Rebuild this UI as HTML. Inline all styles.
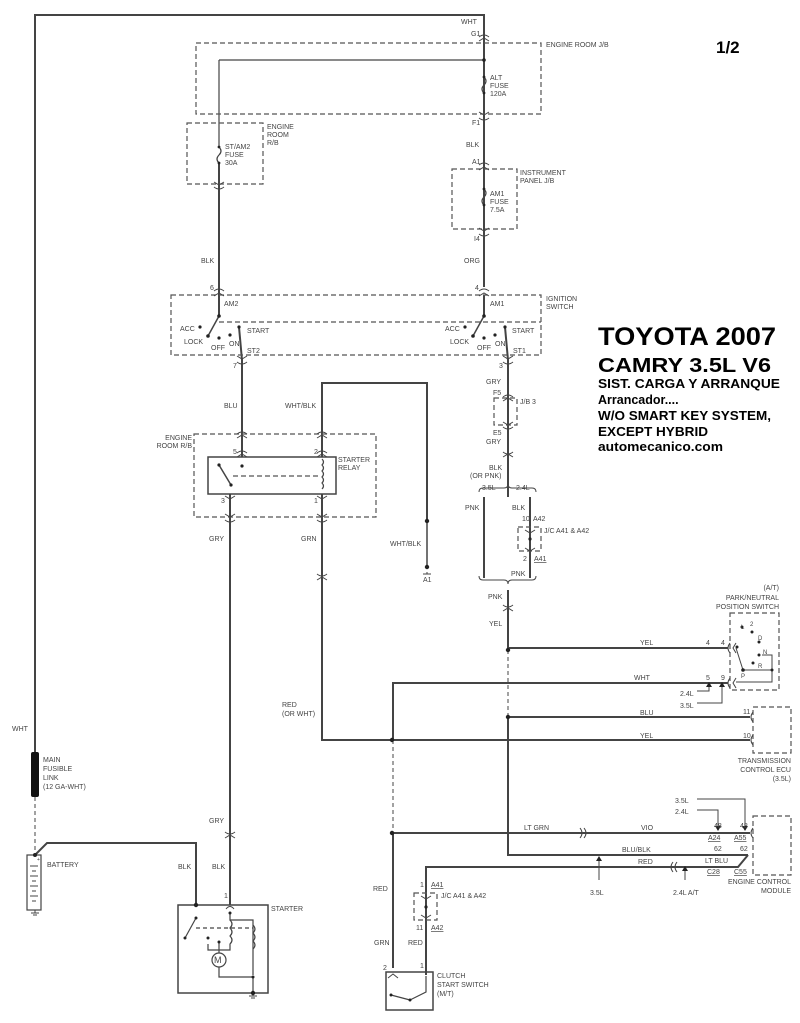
<!DOCTYPE html>
<html><head><meta charset="utf-8"><style>
html,body{margin:0;padding:0;background:#fff;}
svg{display:block;}
text{font-family:"Liberation Sans",Arial,sans-serif;fill:#444;font-size:7px;}
.t{fill:#000;font-weight:bold;}
</style></head><body>
<svg width="800" height="1023" viewBox="0 0 800 1023" xmlns="http://www.w3.org/2000/svg">
<g fill="none" stroke="#444" stroke-width="2">
<!-- main top wire -->
<polyline points="35,752 35,15 484,15 484,43"/>
<line x1="484" y1="43" x2="484" y2="287"/>
<line x1="484" y1="295" x2="484" y2="316"/>
<line x1="219" y1="60" x2="484" y2="60" stroke-width="1.2"/>
<line x1="219" y1="60" x2="219" y2="146" stroke-width="1.2"/>
<line x1="219" y1="162" x2="219" y2="316"/>
<!-- left ignition -->
<line x1="219" y1="316" x2="208" y2="336" stroke-width="1.5"/>
<polyline points="239,327 242,360 242,457" />
<!-- right ignition -->
<line x1="484" y1="316" x2="473" y2="336" stroke-width="1.5"/>
<polyline points="505,327 508,360 508,497"/>
<!-- wht/blk -->
<polyline points="322,457 322,383 427,383 427,521"/>
<line x1="427" y1="521" x2="427" y2="567" stroke-width="1.5"/>
<!-- relay wires -->
<line x1="230" y1="494" x2="230" y2="905"/>
<polyline points="322,494 322,740 393,740"/>
<!-- branch 3.5L / 2.4L -->
<line x1="484" y1="497" x2="484" y2="578"/>
<line x1="530" y1="497" x2="530" y2="578"/>
<polyline points="508,590 508,650"/>
<line x1="508" y1="650" x2="508" y2="717" stroke-width="1" stroke-dasharray="4,3"/>
<polyline points="508,717 508,855 748,855"/>
<line x1="508" y1="648" x2="728" y2="648"/>
<line x1="508" y1="717" x2="750" y2="717"/>
<polyline points="728,683 393,683 393,740"/>
<line x1="393" y1="740" x2="750" y2="740"/>
<line x1="393" y1="740" x2="393" y2="833" stroke-width="1" stroke-dasharray="4,3"/>
<line x1="393" y1="833" x2="393" y2="968"/>
<line x1="393" y1="833" x2="750" y2="833"/>
<polyline points="426,975 426,867 738,867 748,855"/>
<!-- battery wire -->
<line x1="35" y1="797" x2="35" y2="855" stroke-width="1" stroke-dasharray="4,3"/>
<polyline points="35,855 47,843 196,843 196,905"/>
</g>
<!-- fusible link -->
<rect x="31" y="752" width="8" height="45" fill="#111" rx="2"/>
<!-- dashed boxes -->
<g fill="none" stroke="#555" stroke-width="1.2" stroke-dasharray="5,3">
<rect x="196" y="43" width="345" height="71"/>
<rect x="187" y="123" width="76" height="61"/>
<rect x="452" y="169" width="65" height="60"/>
<rect x="171" y="295" width="370" height="60"/>
<line x1="219" y1="322" x2="541" y2="322"/>
<rect x="194" y="434" width="182" height="83"/>
<line x1="233" y1="476" x2="318" y2="476"/>
<rect x="494" y="398" width="23" height="27"/>
<rect x="518" y="527" width="23" height="24"/>
<rect x="730" y="613" width="49" height="77"/>
<rect x="753" y="707" width="38" height="46"/>
<rect x="753" y="816" width="38" height="59"/>
<rect x="414" y="893" width="23" height="27"/>
<line x1="35" y1="0" x2="35" y2="0"/>
</g>
<!-- relay box -->
<rect x="208" y="457" width="128" height="37" fill="none" stroke="#444" stroke-width="1.5"/>
<line x1="219" y1="465" x2="231" y2="485" stroke="#444" stroke-width="1.5"/>
<path d="M322,459 q3,3 0,6 q3,3 0,6 q3,3 0,6 q3,3 0,6 q3,3 0,6" fill="none" stroke="#444" stroke-width="1.2"/>
<!-- fuses -->
<g fill="none" stroke="#444" stroke-width="1.2">
<path d="M484,77 q4,4 0,8 q-4,4 0,8"/>
<path d="M484,189 q4,4 0,8 q-4,4 0,8"/>
<path d="M219,147 q4,4 0,8 q-4,4 0,8"/>
</g>
<!-- connector chevrons -->
<g fill="none" stroke="#444" stroke-width="1">
<path d="M479,37 q5,-4 10,0 M479,41 l5,-3 l5,3"/>
<path d="M479,112 l5,3 l5,-3 M479,118 q5,4 10,0"/>
<path d="M479,165 q5,-4 10,0 M479,170 l5,-3 l5,3"/>
<path d="M479,228 l5,3 l5,-3 M479,234 q5,4 10,0"/>
<path d="M479,291 q5,-4 10,0 M479,296 l5,-3 l5,3"/>
<path d="M214,182 l5,3 l5,-3 M214,187 q5,4 10,0"/>
<path d="M214,291 q5,-4 10,0 M214,296 l5,-3 l5,3"/>
<path d="M237,356 l5,3 l5,-3 M237,362 q5,4 10,0"/>
<path d="M503,356 l5,3 l5,-3 M503,362 q5,4 10,0"/>
<path d="M503,397 q5,-4 10,0 M503,401 l5,-3 l5,3"/>
<path d="M503,422 l5,3 l5,-3 M503,427 q5,4 10,0"/>
<path d="M503,452 q5,4 10,0 M503,457 l5,-3 l5,3"/>
<path d="M237,434 q5,-4 10,0 M237,438 l5,-3 l5,3"/>
<path d="M237,453 q5,-4 10,0 M237,457 l5,-3 l5,3"/>
<path d="M317,434 q5,-4 10,0 M317,438 l5,-3 l5,3"/>
<path d="M317,453 q5,-4 10,0 M317,457 l5,-3 l5,3"/>
<path d="M225,496 l5,3 l5,-3 M225,514 l5,3 l5,-3 M225,520 q5,4 10,0"/>
<path d="M317,496 l5,3 l5,-3 M317,514 l5,3 l5,-3 M317,520 q5,4 10,0"/>
<path d="M317,574 q5,4 10,0 M317,580 l5,-3 l5,3"/>
<path d="M503,605 q5,4 10,0 M503,611 l5,-3 l5,3"/>
<path d="M225,832 q5,4 10,0 M225,838 l5,-3 l5,3"/>
<path d="M525,530 l5,3 l5,-3 M525,548 l5,3 l5,-3"/>
<path d="M421,896 l5,3 l5,-3 M421,915 l5,3 l5,-3"/>
<path d="M388,978 l5,-4 l5,4"/>
<path d="M580,828 q4,5 0,10 M584,828 q4,5 0,10"/>
<path d="M673,862 q-4,5 0,10 M677,862 q-4,5 0,10"/>
<path d="M730,643 q-4,5 0,10 M736,643 l-3,5 l3,5"/>
<path d="M730,678 q-4,5 0,10 M736,678 l-3,5 l3,5"/>
<path d="M753,712 q-4,5 0,10"/>
<path d="M753,735 q-4,5 0,10"/>
<path d="M753,828 q-4,5 0,10"/>
<path d="M226,909 q4,-5 8,0"/>
</g>
<!-- braces -->
<g fill="none" stroke="#444" stroke-width="1">
<path d="M479,492 q0,-4 4,-4 h21 q4,0 4,-4 q0,4 4,4 h20 q4,0 4,4"/>
<path d="M479,576 q0,4 4,4 h21 q4,0 4,4 q0,-4 4,-4 h20 q4,0 4,-4"/>
</g>
<!-- P/N switch internals -->
<g fill="none" stroke="#444" stroke-width="1">
<polyline points="736,648 743,670 772,670 772,655 762,655"/>
<polyline points="772,670 772,682 736,682"/>
<!-- leader lines -->
<polyline points="697,691 709,691 709,683"/>
<polyline points="697,703 722,703 722,683"/>
<polyline points="697,799 745,799 745,830"/>
<polyline points="697,810 718,810 718,830"/>
<line x1="599" y1="880" x2="599" y2="857"/>
<line x1="685" y1="880" x2="685" y2="867"/>
</g>
<!-- starter -->
<g fill="none" stroke="#444" stroke-width="1.2">
<rect x="178" y="905" width="90" height="88" stroke-width="1.5"/>
<line x1="196" y1="918" x2="185" y2="938"/>
<polyline points="230,913 230,920 253,920 253,975"/>
<path d="M230,920 q4,4 0,8 q4,4 0,8 q4,4 0,8 v6 h-22 v-6"/>
<path d="M253,925 q4,4 0,8 q4,4 0,8 q4,4 0,8"/>
<line x1="196" y1="928" x2="253" y2="928" stroke-dasharray="4,3"/>
<line x1="219" y1="942" x2="219" y2="953"/>
<circle cx="219" cy="960" r="7"/>
<polyline points="219,967 219,977 253,977 253,993"/>
<!-- clutch switch -->
<rect x="386" y="972" width="47" height="38" stroke-width="1.5"/>
<line x1="391" y1="995" x2="410" y2="1000"/>
<polyline points="410,1000 426,992 426,976"/>
<!-- battery -->
<rect x="27" y="855" width="14" height="55"/>
</g>
<text x="214" y="963" style="font-size:9px">M</text>
<g stroke="#444" stroke-width="1">
<line x1="30" y1="866" x2="38" y2="866"/><line x1="32" y1="871" x2="36" y2="871"/>
<line x1="30" y1="876" x2="38" y2="876"/><line x1="32" y1="881" x2="36" y2="881"/>
<line x1="30" y1="886" x2="38" y2="886"/><line x1="32" y1="891" x2="36" y2="891"/>
<line x1="30" y1="896" x2="38" y2="896"/><line x1="32" y1="901" x2="36" y2="901"/>
<line x1="35" y1="910" x2="35" y2="913"/><line x1="31" y1="913" x2="39" y2="913"/><line x1="33" y1="915" x2="37" y2="915"/>
<line x1="253" y1="993" x2="253" y2="996"/><line x1="249" y1="996" x2="257" y2="996"/><line x1="251" y1="998" x2="255" y2="998"/>
<line x1="427" y1="572" x2="427" y2="574"/><line x1="423" y1="574" x2="431" y2="574"/>
</g>
<!-- dots -->
<g fill="#222">
<circle cx="484" cy="60" r="1.8"/>
<circle cx="219" cy="316" r="1.8"/><circle cx="208" cy="336" r="1.8"/>
<circle cx="200" cy="327" r="1.6"/><circle cx="219" cy="338" r="1.6"/><circle cx="230" cy="335" r="1.6"/><circle cx="239" cy="327" r="1.6"/>
<circle cx="484" cy="316" r="1.8"/><circle cx="473" cy="336" r="1.8"/>
<circle cx="465" cy="327" r="1.6"/><circle cx="484" cy="338" r="1.6"/><circle cx="495" cy="335" r="1.6"/><circle cx="505" cy="327" r="1.6"/>
<circle cx="242" cy="466" r="1.6"/><circle cx="219" cy="465" r="1.6"/><circle cx="231" cy="485" r="1.6"/>
<circle cx="427" cy="521" r="2.2"/><circle cx="427" cy="567" r="2.2"/>
<circle cx="508" cy="650" r="2.2"/><circle cx="508" cy="717" r="2.2"/>
<circle cx="392" cy="740" r="2.2"/><circle cx="392" cy="833" r="2.2"/>
<circle cx="530" cy="539" r="1.6"/><circle cx="426" cy="907" r="1.6"/>
<circle cx="742" cy="627" r="1.5"/><circle cx="752" cy="632" r="1.5"/><circle cx="759" cy="642" r="1.5"/>
<circle cx="759" cy="655" r="1.5"/><circle cx="753" cy="663" r="1.5"/><circle cx="743" cy="670" r="1.8"/><circle cx="737" cy="647" r="1.5"/><circle cx="772" cy="670" r="1.5"/>
<circle cx="35" cy="855" r="2"/><circle cx="196" cy="905" r="2.2"/><circle cx="253" cy="993" r="2.2"/>
<circle cx="196" cy="918" r="1.5"/><circle cx="185" cy="938" r="1.5"/><circle cx="230" cy="913" r="1.5"/>
<circle cx="208" cy="938" r="1.5"/><circle cx="219" cy="942" r="1.5"/><circle cx="253" cy="977" r="1.5"/>
<circle cx="391" cy="995" r="1.5"/><circle cx="410" cy="1000" r="1.5"/>
<circle cx="484" cy="77" r="1.4"/><circle cx="484" cy="93" r="1.4"/>
<circle cx="484" cy="189" r="1.4"/><circle cx="484" cy="205" r="1.4"/>
<circle cx="219" cy="147" r="1.4"/><circle cx="219" cy="163" r="1.4"/>
</g>
<!-- arrowheads -->
<g fill="#222">
<path d="M596,861 l3,-5 l3,5z"/><path d="M682,871 l3,-5 l3,5z"/>
<path d="M715,826 l3,5 l3,-5z"/><path d="M742,826 l3,5 l3,-5z"/>
<path d="M706,687 l3,-5 l3,5z"/><path d="M719,687 l3,-5 l3,5z"/>
</g>
<!-- labels -->
<text x="461" y="24">WHT</text><text x="471" y="36">G1</text>
<text x="546" y="47">ENGINE ROOM J/B</text>
<text x="490" y="80">ALT</text><text x="490" y="88">FUSE</text><text x="490" y="96">120A</text>
<text x="472" y="125">F1</text><text x="466" y="147">BLK</text><text x="472" y="164">A1</text>
<text x="520" y="175">INSTRUMENT</text><text x="520" y="183">PANEL J/B</text>
<text x="490" y="196">AM1</text><text x="490" y="204">FUSE</text><text x="490" y="212">7.5A</text>
<text x="474" y="241">I4</text><text x="464" y="263">ORG</text><text x="475" y="290">4</text>
<text x="267" y="129">ENGINE</text><text x="267" y="137">ROOM</text><text x="267" y="145">R/B</text>
<text x="225" y="149">ST/AM2</text><text x="225" y="157">FUSE</text><text x="225" y="165">30A</text>
<text x="201" y="263">BLK</text><text x="210" y="290">6</text>
<text x="224" y="306">AM2</text><text x="180" y="331">ACC</text><text x="184" y="344">LOCK</text>
<text x="211" y="350">OFF</text><text x="229" y="346">ON</text><text x="247" y="333">START</text><text x="247" y="353">ST2</text><text x="233" y="368">7</text>
<text x="490" y="306">AM1</text><text x="445" y="331">ACC</text><text x="450" y="344">LOCK</text>
<text x="477" y="350">OFF</text><text x="495" y="346">ON</text><text x="512" y="333">START</text><text x="513" y="353">ST1</text><text x="499" y="368">3</text>
<text x="546" y="301">IGNITION</text><text x="546" y="309">SWITCH</text>
<text x="224" y="408">BLU</text><text x="285" y="408">WHT/BLK</text>
<text x="192" y="440" text-anchor="end">ENGINE</text><text x="192" y="448" text-anchor="end">ROOM R/B</text>
<text x="233" y="454">5</text><text x="314" y="454">2</text><text x="338" y="462">STARTER</text><text x="338" y="470">RELAY</text>
<text x="221" y="503">3</text><text x="314" y="503">1</text>
<text x="209" y="541">GRY</text><text x="301" y="541">GRN</text><text x="390" y="546">WHT/BLK</text><text x="423" y="582">A1</text>
<text x="486" y="384">GRY</text><text x="493" y="395">F5</text><text x="520" y="404">J/B 3</text>
<text x="493" y="435">E5</text><text x="486" y="444">GRY</text>
<text x="489" y="470">BLK</text><text x="470" y="478">(OR PNK)</text>
<text x="482" y="490">3.5L</text><text x="516" y="490">2.4L</text>
<text x="465" y="510">PNK</text><text x="512" y="510">BLK</text>
<text x="522" y="521">10</text><text x="533" y="521">A42</text><text x="544" y="533">J/C A41 &amp; A42</text>
<text x="523" y="561">2</text><text x="534" y="561" text-decoration="underline">A41</text><text x="511" y="576">PNK</text>
<text x="488" y="599">PNK</text><text x="489" y="626">YEL</text>
<text x="640" y="645">YEL</text><text x="706" y="645">4</text><text x="721" y="645">4</text>
<text x="634" y="680">WHT</text><text x="706" y="680">5</text><text x="721" y="680">9</text>
<text x="680" y="696">2.4L</text><text x="680" y="708">3.5L</text>
<text x="779" y="590" text-anchor="end">(A/T)</text><text x="779" y="600" text-anchor="end">PARK/NEUTRAL</text><text x="779" y="609" text-anchor="end">POSITION SWITCH</text>
<text x="741" y="629" style="font-size:6px">L</text><text x="750" y="626" style="font-size:6px">2</text><text x="758" y="640" style="font-size:6px">D</text>
<text x="763" y="654" style="font-size:6px">N</text><text x="758" y="668" style="font-size:6px">R</text><text x="741" y="678" style="font-size:6px">P</text>
<text x="640" y="715">BLU</text><text x="743" y="714">11</text>
<text x="640" y="738">YEL</text><text x="743" y="738">10</text>
<text x="791" y="763" text-anchor="end">TRANSMISSION</text><text x="791" y="772" text-anchor="end">CONTROL ECU</text><text x="791" y="781" text-anchor="end">(3.5L)</text>
<text x="675" y="803">3.5L</text><text x="675" y="814">2.4L</text>
<text x="524" y="830">LT GRN</text><text x="641" y="830">VIO</text>
<text x="714" y="828">48</text><text x="740" y="828">48</text>
<text x="708" y="840" text-decoration="underline">A24</text><text x="734" y="840" text-decoration="underline">A55</text>
<text x="622" y="852">BLU/BLK</text><text x="714" y="851">62</text><text x="740" y="851">62</text>
<text x="638" y="864">RED</text><text x="705" y="863">LT BLU</text>
<text x="707" y="874" text-decoration="underline">C28</text><text x="734" y="874" text-decoration="underline">C55</text>
<text x="590" y="895">3.5L</text><text x="673" y="895">2.4L A/T</text>
<text x="791" y="884" text-anchor="end">ENGINE CONTROL</text><text x="791" y="893" text-anchor="end">MODULE</text>
<text x="420" y="887">1</text><text x="431" y="887" text-decoration="underline">A41</text><text x="441" y="898">J/C A41 &amp; A42</text>
<text x="416" y="930">11</text><text x="431" y="930" text-decoration="underline">A42</text>
<text x="408" y="945">RED</text><text x="420" y="968">1</text>
<text x="437" y="978">CLUTCH</text><text x="437" y="987">START SWITCH</text><text x="437" y="996">(M/T)</text>
<text x="383" y="970">2</text><text x="373" y="891">RED</text><text x="374" y="945">GRN</text>
<text x="282" y="707">RED</text><text x="282" y="716">(OR WHT)</text>
<text x="12" y="731">WHT</text>
<text x="43" y="762">MAIN</text><text x="43" y="771">FUSIBLE</text><text x="43" y="780">LINK</text><text x="43" y="789">(12 GA-WHT)</text>
<text x="47" y="867">BATTERY</text><text x="37" y="861" style="font-size:5px">+</text>
<text x="178" y="869">BLK</text><text x="212" y="869">BLK</text><text x="209" y="823">GRY</text>
<text x="224" y="898">1</text><text x="271" y="911">STARTER</text>
<!-- titles -->
<text class="t" x="716" y="53" style="font-size:17px">1/2</text>
<text class="t" x="598" y="345" style="font-size:25px" textLength="178" lengthAdjust="spacingAndGlyphs">TOYOTA  2007</text>
<text class="t" x="598" y="372" style="font-size:20px" textLength="173" lengthAdjust="spacingAndGlyphs">CAMRY  3.5L  V6</text>
<text class="t" x="598" y="388" style="font-size:12.5px" textLength="182" lengthAdjust="spacingAndGlyphs">SIST. CARGA Y ARRANQUE</text>
<text class="t" x="598" y="404" style="font-size:12.5px">Arrancador....</text>
<text class="t" x="598" y="420" style="font-size:12.5px" textLength="173" lengthAdjust="spacingAndGlyphs">W/O SMART KEY SYSTEM,</text>
<text class="t" x="598" y="436" style="font-size:12.5px" textLength="110" lengthAdjust="spacingAndGlyphs">EXCEPT HYBRID</text>
<text class="t" x="598" y="451" style="font-size:12.5px" textLength="125" lengthAdjust="spacingAndGlyphs">automecanico.com</text>
</svg>
</body></html>
